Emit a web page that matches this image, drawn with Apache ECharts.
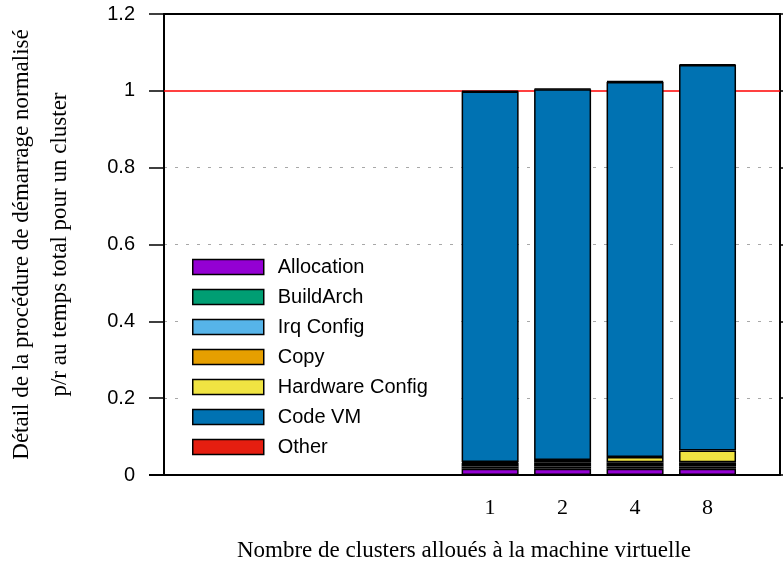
<!DOCTYPE html>
<html>
<head>
<meta charset="utf-8">
<script src="https://cdn.jsdelivr.net/npm/echarts@6/dist/echarts.min.js"></script>
<style>
  html, body { margin: 0; padding: 0; background: #fff; }
  #chart { width: 783px; height: 565px; }
</style>
</head>
<body>
<div id="chart"></div>
<script>
// clusters allocated to the VM, bars placed at x = 0..3
const categories = ['1', '2', '4', '8'];
const positions = [0, 1, 2, 3];

// normalized boot-time breakdown, stacked bottom -> top
const allocation = [0.016, 0.016, 0.016, 0.016];
const buildArch = [0.006, 0.006, 0.006, 0.006];
const irqConfig = [0.004, 0.004, 0.004, 0.004];
const copy = [0.006, 0.007, 0.007, 0.007];
const hardwareConfig = [0.002, 0.006, 0.014, 0.031];
const codeVM = [0.964, 0.965, 0.976, 1.003];
const other = [0.002, 0.002, 0.002, 0.002];

const seriesDefs = [
    { name: 'Allocation', values: allocation, color: '#9400d3' },
    { name: 'BuildArch', values: buildArch, color: '#009e73' },
    { name: 'Irq Config', values: irqConfig, color: '#56b4e9' },
    { name: 'Copy', values: copy, color: '#e69f00' },
    { name: 'Hardware Config', values: hardwareConfig, color: '#f0e442' },
    { name: 'Code VM', values: codeVM, color: '#0072b2' },
    { name: 'Other', values: other, color: '#e51e10' }
];

const serif = '"Liberation Serif", "Times New Roman", serif';
const sans = '"Liberation Sans", Arial, sans-serif';
const gridGray = '#a8a8a8';

const chart = echarts.init(document.getElementById('chart'), null, { renderer: 'canvas' });

// value first so the stack runs on the y value (x is a value axis too)
const series = seriesDefs.map(def => ({
    name: def.name,
    type: 'bar',
    stack: 'total',
    barWidth: 57,
    encode: { x: 1, y: 0 },
    data: def.values.map((v, i) => [v, positions[i]]),
    itemStyle: {
        color: def.color,
        borderColor: '#000',
        borderWidth: 1.5
    }
}));

// reference line at 1, kept behind the bars
series[0].markLine = {
    z: 1,
    silent: true,
    symbol: 'none',
    label: { show: false },
    lineStyle: { color: '#ff0000', width: 1.5, type: 'solid' },
    data: [{ yAxis: 1 }]
};

const option = {
    animation: false,
    backgroundColor: '#fff',
    grid: {
        left: 164,
        right: 3,
        top: 14,
        bottom: 90,
        outerBoundsMode: 'none',
        containLabel: false
    },
    legend: {
        data: seriesDefs.map(d => d.name),
        orient: 'vertical',
        left: 180,
        top: 249,
        icon: 'rect',
        itemWidth: 71,
        itemHeight: 15,
        itemGap: 10,
        padding: [8, 28, 8, 12],
        backgroundColor: '#fff',
        itemStyle: { borderColor: '#000', borderWidth: 1.5 },
        textStyle: {
            fontFamily: sans,
            fontSize: 20,
            color: '#000',
            padding: [0, 0, 0, 9]
        }
    },
    xAxis: [{
        type: 'value',
        min: -4.5,
        max: 4,
        position: 'bottom',
        name: 'Nombre de clusters alloués à la machine virtuelle',
        nameLocation: 'middle',
        nameGap: 64,
        nameTextStyle: { fontFamily: serif, fontSize: 23, color: '#000', padding: [0, 16, 0, 0] },
        axisLine: { show: true, onZero: false, lineStyle: { color: '#000', width: 2 } },
        axisTick: { show: false },
        splitLine: { show: false },
        axisLabel: {
            customValues: positions,
            formatter: v => categories[v],
            fontFamily: serif,
            fontSize: 22,
            color: '#000',
            margin: 22
        }
    }, {
        type: 'value',
        min: -4.5,
        max: 4,
        position: 'top',
        axisLine: { show: true, onZero: false, lineStyle: { color: '#000', width: 2 } },
        axisTick: { show: false },
        axisLabel: { show: false },
        splitLine: { show: false }
    }],
    yAxis: [{
        type: 'value',
        min: 0,
        max: 1.2,
        interval: 0.2,
        name: 'Détail de la procédure de démarrage normalisé\np/r au temps total pour un cluster',
        nameLocation: 'middle',
        nameRotate: 90,
        nameGap: 85,
        nameTextStyle: { fontFamily: serif, fontSize: 23, color: '#000', lineHeight: 38 },
        axisLine: { show: true, onZero: false, lineStyle: { color: '#000', width: 2 } },
        axisTick: { show: true, inside: false, length: 15, lineStyle: { color: '#000', width: 1.5 } },
        axisLabel: {
            fontFamily: sans,
            fontSize: 20,
            color: '#000',
            margin: 29
        },
        splitLine: {
            show: true,
            lineStyle: {
                // no dashes on the 0, 1 and 1.2 lines
                color: ['transparent', gridGray, gridGray, gridGray, gridGray, 'transparent', 'transparent'],
                width: 1,
                type: [3, 8]
            }
        }
    }, {
        type: 'value',
        min: 0,
        max: 1.2,
        interval: 0.2,
        position: 'right',
        axisLine: { show: true, onZero: false, lineStyle: { color: '#000', width: 2 } },
        axisTick: { show: true, inside: false, length: 14, lineStyle: { color: '#000', width: 1.5 } },
        axisLabel: { show: false },
        splitLine: { show: false }
    }],
    graphic: [{
        // x axis line runs out under the y tick marks
        type: 'line',
        shape: { x1: 149, y1: 475, x2: 164, y2: 475 },
        style: { stroke: '#000', lineWidth: 2 }
    }],
    series: series
};

chart.setOption(option);
</script>
</body>
</html>
